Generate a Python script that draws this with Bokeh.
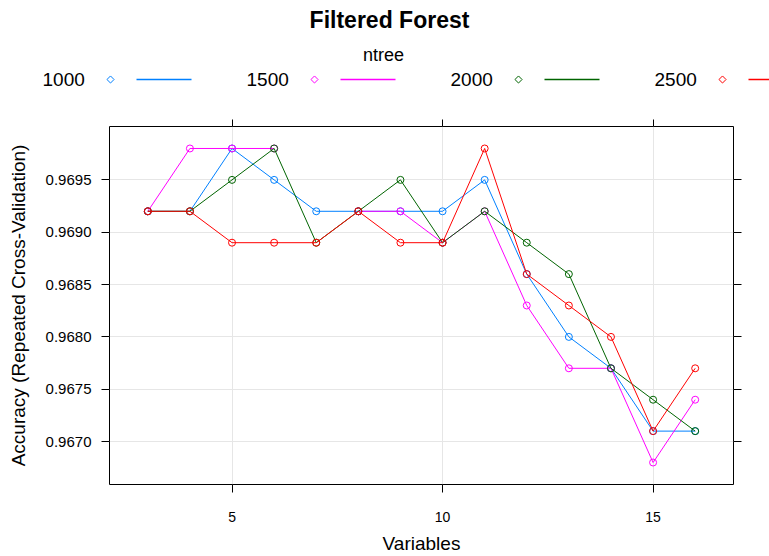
import numpy as np
from bokeh.plotting import figure
from bokeh.models import Range1d, FixedTicker, PrintfTickFormatter, LinearAxis
from bokeh.layouts import column
from bokeh.embed import file_html
from bokeh.resources import INLINE
from bokeh.core.properties import value

# ---------------- data ----------------
title_text = "Filtered Forest"
legend_title = "ntree"
x_label = "Variables"
y_label = "Accuracy (Repeated Cross-Validation)"

variables = [3, 4, 5, 6, 7, 8, 9, 10, 11, 12, 13, 14, 15, 16]
ntree_levels = ["1000", "1500", "2000", "2500"]
nan = float("nan")
acc_1000 = [0.9692, 0.9692, 0.9698, 0.9695, 0.9692, 0.9692, 0.9692, 0.9692, 0.9695, 0.9686, 0.9680, 0.9677, 0.9671, 0.9671]
acc_1500 = [0.9692, 0.9698, 0.9698, 0.9698, nan, 0.9692, 0.9692, 0.9689, 0.9692, 0.9683, 0.9677, 0.9677, 0.9668, 0.9674]
acc_2000 = [0.9692, 0.9692, 0.9695, 0.9698, 0.9689, 0.9692, 0.9695, 0.9689, 0.9692, 0.9689, 0.9686, 0.9677, 0.9674, 0.9671]
acc_2500 = [0.9692, 0.9692, 0.9689, 0.9689, 0.9689, 0.9692, 0.9689, 0.9689, 0.9698, 0.9686, 0.9683, 0.9680, 0.9671, 0.9677]
series = [acc_1000, acc_1500, acc_2000, acc_2500]
colors = ["#0080ff", "#ff00ff", "#006400", "#ff0000"]

x_ticks = [5, 10, 15]
y_ticks = [0.9670, 0.9675, 0.9680, 0.9685, 0.9690, 0.9695]

# ---------------- layout / style ----------------
FONT = "Liberation Sans"
W = 769
HEAD_H = 100
MAIN_H = 456

# header: title + legend
head = figure(width=W, height=HEAD_H, x_range=Range1d(0, W), y_range=Range1d(HEAD_H, 0),
              toolbar_location=None, output_backend="svg", min_border=0,
              x_axis_location=None, y_axis_location=None)
head.frame_align = False
head.grid.visible = False
head.outline_line_color = None

head.text(x=[389], y=[19], text=[title_text], text_font=value(FONT), text_font_size="23px",
          text_font_style="bold", text_align="center", text_baseline="middle", text_color="black")
head.text(x=[383], y=[54], text=[legend_title], text_font=value(FONT), text_font_size="18px",
          text_align="center", text_baseline="middle", text_color="black")

step = 204
row_y = 79
key_len = 55
for i, (name, col) in enumerate(zip(ntree_levels, colors)):
    off = i * step
    head.text(x=[42 + off], y=[row_y], text=[name], text_font=value(FONT), text_font_size="19px",
              text_align="left", text_baseline="middle", text_color="black")
    head.scatter(x=[110 + off], y=[row_y], marker="square", angle=np.pi / 4, size=5,
                 fill_color=None, line_color=col, line_width=1)
    head.rect(x=[136 + off + key_len / 2], y=[row_y], width=key_len, height=1.3,
              fill_color=col, line_color=None)

# main plot
p = figure(width=W, height=MAIN_H, x_range=Range1d(2.09, 16.91), y_range=Range1d(0.96659, 0.97001),
           toolbar_location=None, output_backend="svg",
           min_border_left=109, min_border_right=36, min_border_top=26, min_border_bottom=71)
p.frame_align = False
p.outline_line_color = "black"
p.outline_line_width = 1

xt = FixedTicker(ticks=x_ticks)
yt = FixedTicker(ticks=y_ticks)
yfmt = PrintfTickFormatter(format="%.4f")

p.xgrid.ticker = xt
p.ygrid.ticker = yt
p.xgrid.grid_line_color = "#e6e6e6"
p.ygrid.grid_line_color = "#e6e6e6"

def style_axis(ax, label_size, tick_out=8):
    ax.axis_line_color = None
    ax.major_tick_line_color = "black"
    ax.major_tick_out = tick_out
    ax.major_tick_in = 0
    ax.minor_tick_line_color = None
    ax.major_label_text_font = FONT
    ax.major_label_text_font_size = label_size
    ax.major_label_text_color = "black"
    ax.axis_label_text_font = FONT
    ax.axis_label_text_font_size = "19px"
    ax.axis_label_text_font_style = "normal"
    ax.axis_label_text_color = "black"

xa = p.xaxis[0]
xa.ticker = xt
style_axis(xa, "14px")
xa.major_label_standoff = 19
xa.axis_label = x_label
xa.axis_label_standoff = 8

ya = p.yaxis[0]
ya.ticker = yt
ya.formatter = yfmt
style_axis(ya, "15px")
ya.major_label_standoff = 10
ya.axis_label = y_label
ya.axis_label_standoff = 14

ra = LinearAxis(ticker=yt, formatter=yfmt)
style_axis(ra, "0px")
ra.major_label_standoff = 0
ra.major_label_text_alpha = 0
p.add_layout(ra, "right")

ta = LinearAxis(ticker=xt)
style_axis(ta, "0px", tick_out=7)
ta.major_label_standoff = 0
ta.major_label_text_alpha = 0
p.add_layout(ta, "above")

for acc, col in zip(series, colors):
    y = np.array(acc, dtype=float)
    p.line(variables, y, line_color=col, line_width=1)
    p.scatter(variables, y, marker="circle", size=7, fill_color=None, line_color=col, line_width=1)

layout = column(head, p)
open("out.html", "w").write(file_html(layout, INLINE))
